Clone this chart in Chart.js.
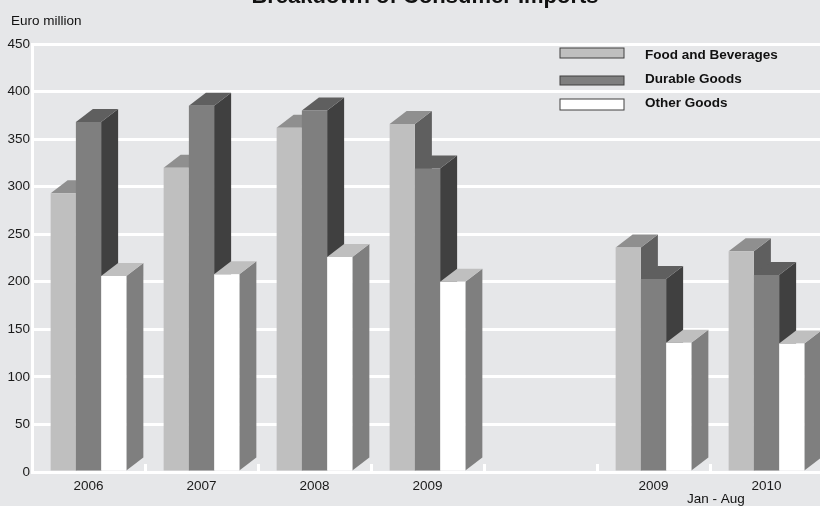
<!DOCTYPE html>
<html>
<head>
<meta charset="utf-8">
<title>Breakdown of Consumer Imports</title>
<script src="https://cdn.jsdelivr.net/npm/chart.js@4"></script>
<style>
    html, body { margin: 0; padding: 0; width: 820px; height: 506px; overflow: hidden; background: #e6e7e9; }
    canvas { display: block; }
</style>
</head>
<body>
<canvas id="importsChart" width="823" height="506"></canvas>
<script>
// Values (Euro million)
const categories = ['2006', '2007', '2008', '2009', '', '2009', '2010'];
const foodValues = [293, 320, 362, 366, null, 236, 232];
const durableValues = [368, 385, 380, 319, null, 203, 207];
const otherValues = [206, 208, 226, 200, null, 136, 135];
const seriesNames = ['Food and Beverages', 'Durable Goods', 'Other Goods'];
const yTicks = [0, 50, 100, 150, 200, 250, 300, 350, 400, 450];

const fontFamily = '"Liberation Sans", Arial, sans-serif';
const depthX = 17;
const depthY = 13;

// Front, top and side shade of each series
const shades = [
    { front: '#bfbfbf', top: '#8f8f8f', side: '#5f5f5f' },
    { front: '#7f7f7f', top: '#5f5f5f', side: '#404040' },
    { front: '#ffffff', top: '#bfbfbf', side: '#7f7f7f' }
];

function fillShape(ctx, color, points) {
    ctx.fillStyle = color;
    ctx.beginPath();
    points.forEach((p, i) => i ? ctx.lineTo(p[0], p[1]) : ctx.moveTo(p[0], p[1]));
    ctx.closePath();
    ctx.fill();
}

// Draws the series left to right, each bar with its top and side faces,
// so a bar always covers the side of the one before it
const extrude = {
    id: 'extrude',
    beforeDatasetsDraw(chart) {
        const ctx = chart.ctx;
        chart.data.datasets.forEach((dataset, d) => {
            const meta = chart.getDatasetMeta(d);
            meta.data.forEach((bar, i) => {
                if (dataset.data[i] === null) return;
                const left = bar.x - bar.width / 2;
                const right = bar.x + bar.width / 2;
                fillShape(ctx, shades[d].side, [
                    [right, bar.y], [right + depthX, bar.y - depthY],
                    [right + depthX, bar.base - depthY], [right, bar.base]
                ]);
                fillShape(ctx, shades[d].top, [
                    [left, bar.y], [left + depthX, bar.y - depthY],
                    [right + depthX, bar.y - depthY], [right, bar.y]
                ]);
            });
            meta.controller.draw();
        });
        return false;
    }
};

// Title, unit, period note and the legend
const annotations = {
    id: 'annotations',
    afterDraw(chart) {
        const ctx = chart.ctx;
        ctx.save();
        ctx.textBaseline = 'alphabetic';
        ctx.fillStyle = '#111111';

        ctx.font = 'bold 22px ' + fontFamily;
        ctx.textAlign = 'center';
        ctx.fillText('Breakdown of Consumer Imports', 425, 3);

        ctx.font = '13.5px ' + fontFamily;
        ctx.textAlign = 'left';
        ctx.fillText('Euro million', 11, 25);
        ctx.fillText('Jan - Aug', 687, 503);

        const swatchTops = [48, 76, 99];
        const swatchHeights = [10, 9, 11];
        const labelBaselines = [59, 83, 107];
        seriesNames.forEach((name, i) => {
            ctx.fillStyle = shades[i].front;
            ctx.strokeStyle = '#404040';
            ctx.lineWidth = 1;
            ctx.fillRect(560, swatchTops[i], 64, swatchHeights[i]);
            ctx.strokeRect(560, swatchTops[i], 64, swatchHeights[i]);
            ctx.fillStyle = '#111111';
            ctx.font = 'bold 13.5px ' + fontFamily;
            ctx.fillText(name, 645, labelBaselines[i]);
        });
        ctx.restore();
    }
};

new Chart(document.getElementById('importsChart'), {
    type: 'bar',
    data: {
        labels: categories,
        datasets: [foodValues, durableValues, otherValues].map((values, i) => ({
            label: seriesNames[i],
            data: values,
            backgroundColor: shades[i].front,
            borderWidth: 0,
            categoryPercentage: 0.67,
            barPercentage: 1
        }))
    },
    options: {
        responsive: false,
        animation: false,
        layout: { padding: { top: 44, left: 0, right: 0, bottom: 0 } },
        plugins: {
            legend: { display: false },
            title: { display: false },
            tooltip: { enabled: false }
        },
        scales: {
            x: {
                afterFit(scale) { scale.height = 34; },
                grid: {
                    offset: true,
                    drawOnChartArea: false,
                    tickLength: -8,
                    tickWidth: 3,
                    tickColor: '#ffffff'
                },
                border: { color: '#ffffff', width: 3 },
                ticks: {
                    autoSkip: false,
                    maxRotation: 0,
                    padding: 14,
                    color: '#1a1a1a',
                    font: { family: fontFamily, size: 13.5 }
                }
            },
            y: {
                min: 0,
                max: 450,
                afterFit(scale) { scale.width = 32; },
                afterBuildTicks(scale) { scale.ticks = yTicks.map(value => ({ value })); },
                grid: { color: '#ffffff', lineWidth: 3, drawTicks: false },
                border: { color: '#ffffff', width: 3 },
                ticks: {
                    padding: 2,
                    color: '#1a1a1a',
                    font: { family: fontFamily, size: 13.5 }
                }
            }
        }
    },
    plugins: [extrude, annotations]
});
</script>
</body>
</html>
